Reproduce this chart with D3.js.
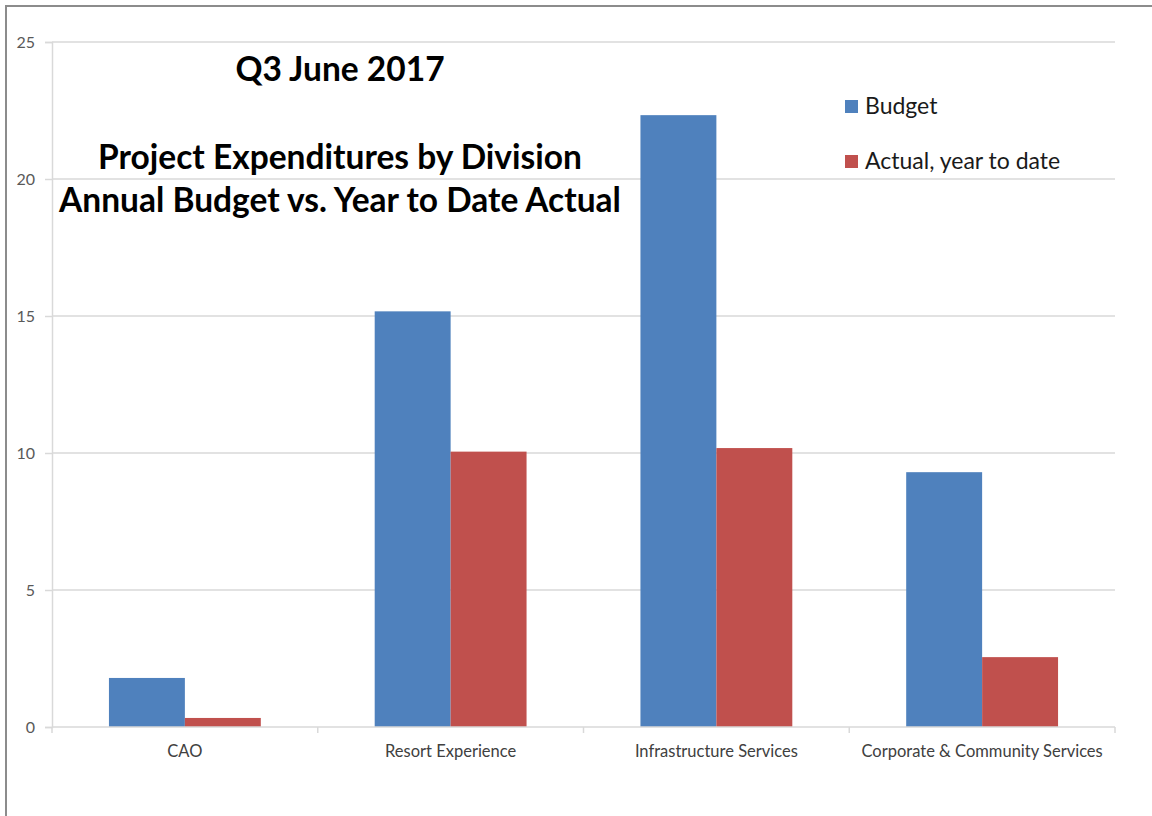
<!DOCTYPE html>
<html>
<head>
<meta charset="utf-8">
<script src="https://cdn.jsdelivr.net/npm/d3@7"></script>
<style>
  body { margin: 0; background: #fff; }
  svg { display: block; font-family: Lato, "Open Sans", sans-serif; }
</style>
</head>
<body>
<svg width="1152" height="816"></svg>
<script>
var categories = ['CAO', 'Resort Experience', 'Infrastructure Services', 'Corporate & Community Services'];
var budget = [1.79, 15.17, 22.33, 9.3];
var actual = [0.33, 10.05, 10.18, 2.55];
var seriesNames = ['Budget', 'Actual, year to date'];
var yTicks = [0, 5, 10, 15, 20, 25];
var colors = ['#4f81bd', '#c0504d'];

var svg = d3.select('svg');
var plotLeft = 52, plotRight = 1115, plotTop = 42, plotBottom = 727;

// outer chart border
svg.append('rect')
    .attr('x', 6).attr('y', 6)
    .attr('width', 1200).attr('height', 900)
    .attr('fill', 'none')
    .attr('stroke', '#8c8c8c')
    .attr('stroke-width', 2);

var x = d3.scaleBand()
    .domain(categories)
    .range([plotLeft, plotRight]);

var y = d3.scaleLinear()
    .domain([0, 25])
    .range([plotBottom, plotTop]);

// gridlines
svg.append('g')
    .selectAll('line')
    .data(yTicks.filter(d => d > 0))
    .enter().append('line')
    .attr('x1', plotLeft).attr('x2', plotRight)
    .attr('y1', d => y(d)).attr('y2', d => y(d))
    .attr('stroke', '#d9d9d9')
    .attr('stroke-width', 1.5);

// y axis
var yAxis = svg.append('g')
    .attr('transform', `translate(${plotLeft},0)`)
    .call(d3.axisLeft(y).tickValues(yTicks).tickSize(7).tickPadding(10));
yAxis.select('.domain').attr('stroke', '#d9d9d9').attr('stroke-width', 1.5);
yAxis.selectAll('.tick line').attr('stroke', '#d9d9d9').attr('stroke-width', 1.5);
yAxis.selectAll('.tick text')
    .attr('fill', '#595959')
    .style('font-size', '16px')
    .style('font-family', 'Lato, sans-serif');

// bars
var bw = x.bandwidth() / 3.5;
var rows = categories.map((c, i) => ({ c: c, vals: [budget[i], actual[i]] }));
var groups = svg.append('g')
    .selectAll('g')
    .data(rows)
    .enter().append('g')
    .attr('transform', d => `translate(${x(d.c) + x.bandwidth() / 2 - bw},0)`);

groups.selectAll('rect')
    .data(d => d.vals)
    .enter().append('rect')
    .attr('x', (d, i) => i * bw)
    .attr('width', bw)
    .attr('y', d => y(d))
    .attr('height', d => y(0) - y(d))
    .attr('fill', (d, i) => colors[i]);

// x axis
svg.append('line')
    .attr('x1', plotLeft).attr('x2', plotRight)
    .attr('y1', plotBottom).attr('y2', plotBottom)
    .attr('stroke', '#d9d9d9')
    .attr('stroke-width', 1.5);

svg.append('g')
    .selectAll('line')
    .data(d3.range(categories.length + 1))
    .enter().append('line')
    .attr('x1', i => plotLeft + i * x.bandwidth())
    .attr('x2', i => plotLeft + i * x.bandwidth())
    .attr('y1', plotBottom).attr('y2', plotBottom + 6)
    .attr('stroke', '#d9d9d9')
    .attr('stroke-width', 1.5);

svg.append('g')
    .selectAll('text')
    .data(categories)
    .enter().append('text')
    .attr('x', d => x(d) + x.bandwidth() / 2)
    .attr('y', 757)
    .attr('text-anchor', 'middle')
    .attr('fill', '#404040')
    .style('font-size', '16.5px')
    .text(d => d);

// titles
var titles = [
    { t: 'Q3 June 2017', y: 81 },
    { t: 'Project Expenditures by Division', y: 169 },
    { t: 'Annual Budget vs. Year to Date Actual', y: 212 }
];
svg.append('g')
    .selectAll('text')
    .data(titles)
    .enter().append('text')
    .attr('x', 340)
    .attr('y', d => d.y)
    .attr('text-anchor', 'middle')
    .attr('fill', '#000')
    .style('font-size', '33.5px')
    .style('font-weight', 'bold')
    .text(d => d.t);

// legend
var legend = svg.append('g')
    .selectAll('g')
    .data(seriesNames)
    .enter().append('g')
    .attr('transform', (d, i) => `translate(845,${100 + i * 55})`);
legend.append('rect')
    .attr('width', 13).attr('height', 13)
    .attr('fill', (d, i) => colors[i]);
legend.append('text')
    .attr('x', 20)
    .attr('y', 14)
    .attr('fill', '#1a1a1a')
    .style('font-size', '23px')
    .text(d => d);
</script>
</body>
</html>
